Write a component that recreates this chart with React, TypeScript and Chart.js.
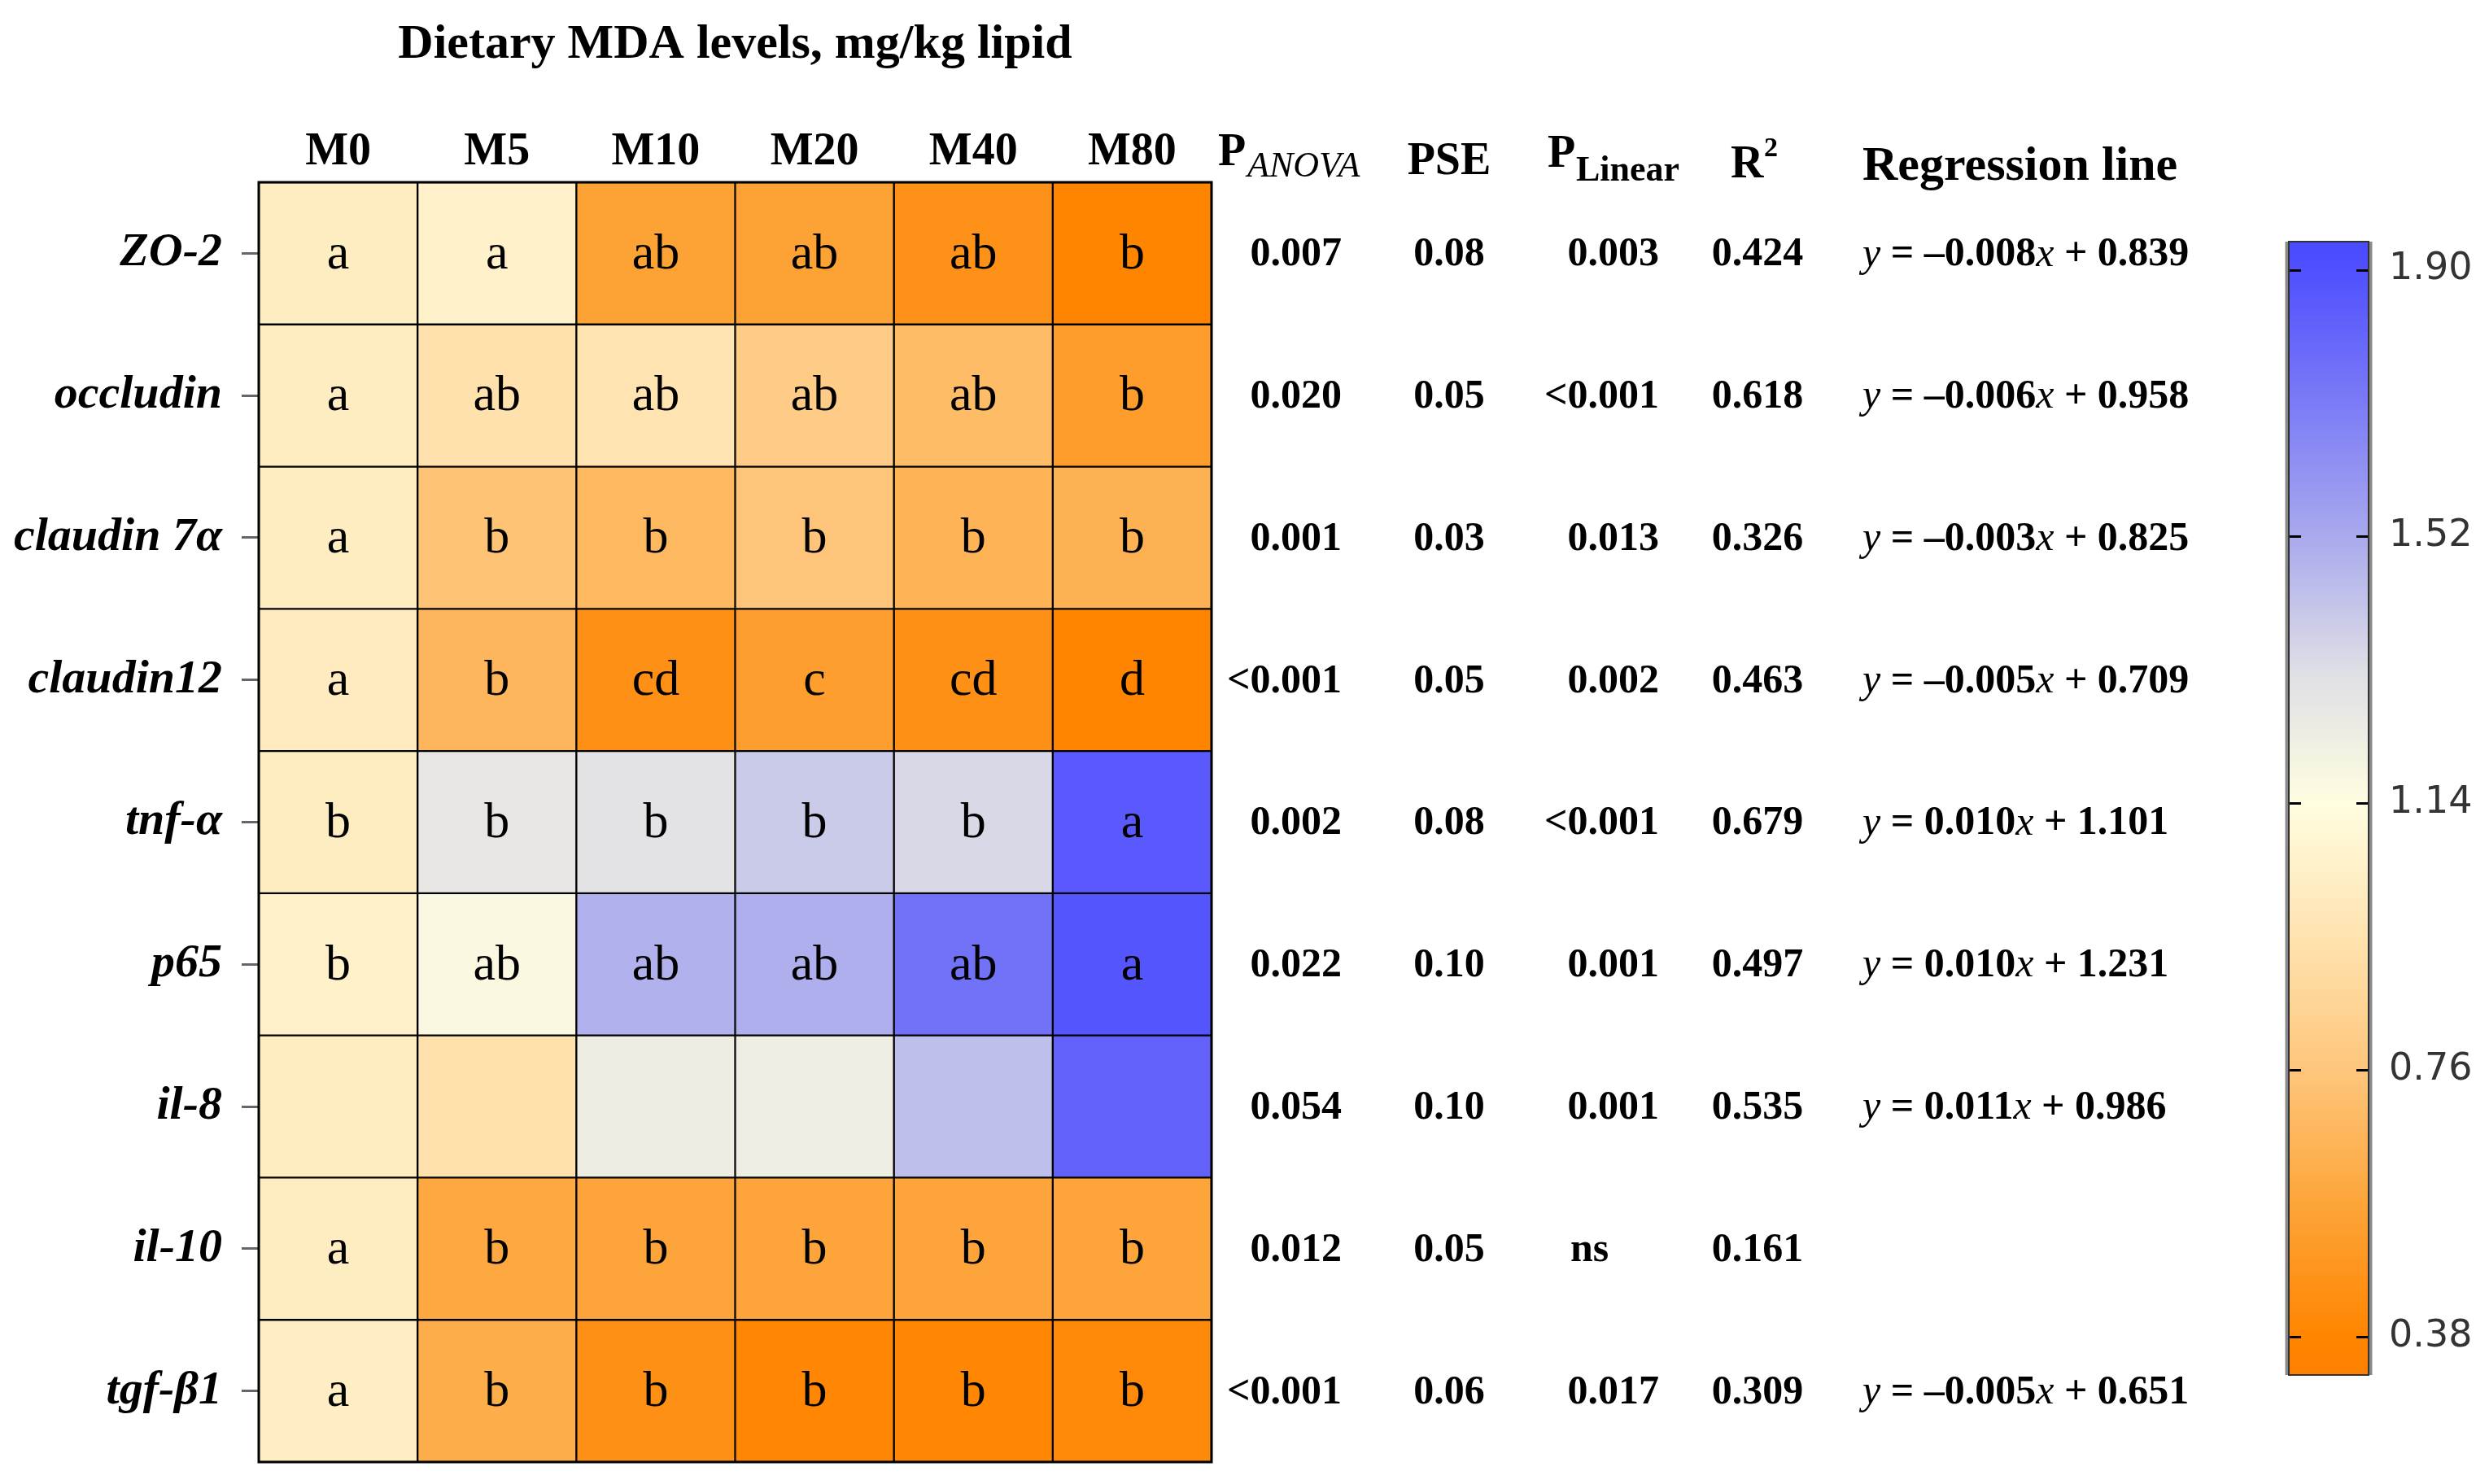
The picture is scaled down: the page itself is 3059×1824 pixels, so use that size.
import React, { useEffect, useRef } from 'react';
import { Chart, registerables } from 'chart.js';
Chart.register(...registerables);

// ---------- data ----------
const genes = ['ZO-2', 'occludin', 'claudin 7α', 'claudin12', 'tnf-α', 'p65', 'il-8', 'il-10', 'tgf-β1'];
const groups = ['M0', 'M5', 'M10', 'M20', 'M40', 'M80'];

const m0Values = [1.02, 1.02, 1.02, 1.01, 1.02, 1.05, 1.02, 1.02, 1.03];
const m5Values = [1.05, 0.94, 0.74, 0.67, 1.28, 1.17, 0.94, 0.59, 0.62];
const m10Values = [0.55, 0.95, 0.68, 0.45, 1.30, 1.49, 1.24, 0.57, 0.45];
const m20Values = [0.55, 0.80, 0.75, 0.53, 1.40, 1.50, 1.23, 0.57, 0.39];
const m40Values = [0.46, 0.70, 0.65, 0.45, 1.35, 1.75, 1.44, 0.57, 0.39];
const m80Values = [0.38, 0.52, 0.64, 0.38, 1.86, 1.88, 1.82, 0.57, 0.41];

const m0Letters = ['a', 'a', 'a', 'a', 'b', 'b', '', 'a', 'a'];
const m5Letters = ['a', 'ab', 'b', 'b', 'b', 'ab', '', 'b', 'b'];
const m10Letters = ['ab', 'ab', 'b', 'cd', 'b', 'ab', '', 'b', 'b'];
const m20Letters = ['ab', 'ab', 'b', 'c', 'b', 'ab', '', 'b', 'b'];
const m40Letters = ['ab', 'ab', 'b', 'cd', 'b', 'ab', '', 'b', 'b'];
const m80Letters = ['b', 'b', 'b', 'd', 'a', 'a', '', 'b', 'b'];

const pAnova = ['0.007', '0.020', '0.001', '<0.001', '0.002', '0.022', '0.054', '0.012', '<0.001'];
const pse = ['0.08', '0.05', '0.03', '0.05', '0.08', '0.10', '0.10', '0.05', '0.06'];
const pLinear = ['0.003', '<0.001', '0.013', '0.002', '<0.001', '0.001', '0.001', 'ns', '0.017'];
const rSquared = ['0.424', '0.618', '0.326', '0.463', '0.679', '0.497', '0.535', '0.161', '0.309'];
const regSlope = ['–0.008', '–0.006', '–0.003', '–0.005', '0.010', '0.010', '0.011', '', '–0.005'];
const regIntercept = ['0.839', '0.958', '0.825', '0.709', '1.101', '1.231', '0.986', '', '0.651'];

const cbMin = 0.325;
const cbMax = 1.94;
const cbTicks = [0.38, 0.76, 1.14, 1.52, 1.90];
const colorStopValues = [0.325, 0.38, 0.57, 0.76, 0.95, 1.14, 1.33, 1.52, 1.71, 1.90, 1.94];
const colorStopColors = ['#FF8000', '#FF8500', '#FDA53A', '#FEC67C', '#FFE3B0', '#FFFDE0', '#DEDEE6', '#A9A9EE', '#7B7BF6', '#5050FF', '#4A4AFF'];

const valueCols = [m0Values, m5Values, m10Values, m20Values, m40Values, m80Values];
const letterCols = [m0Letters, m5Letters, m10Letters, m20Letters, m40Letters, m80Letters];

// ---------- helpers ----------
const SERIF = '"Liberation Serif", "Times New Roman", serif';

function hexToRgb(h: string) {
  const n = parseInt(h.slice(1), 16);
  return [(n >> 16) & 255, (n >> 8) & 255, n & 255];
}
function colorFor(v: number) {
  if (v <= colorStopValues[0]) return colorStopColors[0];
  for (let i = 1; i < colorStopValues.length; i++) {
    if (v <= colorStopValues[i]) {
      const t = (v - colorStopValues[i - 1]) / (colorStopValues[i] - colorStopValues[i - 1]);
      const a = hexToRgb(colorStopColors[i - 1]);
      const b = hexToRgb(colorStopColors[i]);
      const c = a.map((x, k) => Math.round(x + (b[k] - x) * t));
      return `rgb(${c[0]},${c[1]},${c[2]})`;
    }
  }
  return colorStopColors[colorStopColors.length - 1];
}

function drawParts(ctx: CanvasRenderingContext2D, parts: [string, string][], x: number, y: number) {
  let cx = x;
  for (const [text, font] of parts) {
    ctx.font = font;
    ctx.fillText(text, cx, y);
    cx += ctx.measureText(text).width;
  }
}

const annotPlugin = {
  id: 'annot',
  afterDatasetsDraw(chart: any) {
    const ctx = chart.ctx as CanvasRenderingContext2D;
    const a = chart.chartArea;
    ctx.save();
    // outer border
    ctx.strokeStyle = '#000';
    ctx.lineWidth = 3;
    ctx.strokeRect(a.left, a.top, a.width, a.height);
    // cell letters
    ctx.fillStyle = '#000';
    ctx.textAlign = 'center';
    ctx.textBaseline = 'middle';
    ctx.font = `62px ${SERIF}`;
    chart.data.datasets.forEach((_: any, i: number) => {
      const meta = chart.getDatasetMeta(i);
      meta.data.forEach((el: any, j: number) => {
        const p = el.getCenterPoint();
        ctx.fillText(letterCols[i][j], p.x, p.y + 2);
      });
    });
    ctx.restore();
  },
  afterDraw(chart: any) {
    const ctx = chart.ctx as CanvasRenderingContext2D;
    const a = chart.chartArea;
    const ys = chart.scales.y;
    ctx.save();
    ctx.fillStyle = '#000';
    // title
    ctx.textAlign = 'center';
    ctx.textBaseline = 'middle';
    ctx.font = `bold 60px ${SERIF}`;
    ctx.fillText('Dietary MDA levels, mg/kg lipid', (a.left + a.right) / 2, 55);

    // headers
    ctx.textAlign = 'left';
    ctx.textBaseline = 'alphabetic';
    drawParts(ctx, [['P', `bold 56px ${SERIF}`]], 1497, 203);
    drawParts(ctx, [['ANOVA', `italic 44px ${SERIF}`]], 1533, 217);
    ctx.textAlign = 'center';
    ctx.font = `bold 56px ${SERIF}`;
    ctx.fillText('PSE', 1781, 214);
    ctx.textAlign = 'left';
    drawParts(ctx, [['P', `bold 56px ${SERIF}`]], 1902, 205);
    drawParts(ctx, [['Linear', `bold 44px ${SERIF}`]], 1937, 222);
    drawParts(ctx, [['R', `bold 56px ${SERIF}`]], 2127, 218);
    drawParts(ctx, [['2', `bold 34px ${SERIF}`]], 2168, 192);
    drawParts(ctx, [['Regression line', `bold 60px ${SERIF}`]], 2289, 221);

    // values
    ctx.textBaseline = 'middle';
    const B = `bold 50px ${SERIF}`;
    const I = `italic 50px ${SERIF}`;
    genes.forEach((_, j) => {
      const y = ys.getPixelForValue(j) + 2;
      ctx.font = B;
      ctx.textAlign = 'right';
      ctx.fillText(pAnova[j], 1649, y);
      ctx.textAlign = 'center';
      ctx.fillText(pse[j], 1781, y);
      if (/^[<0-9]/.test(pLinear[j])) {
        ctx.textAlign = 'right';
        ctx.fillText(pLinear[j], 2039, y);
      } else {
        ctx.textAlign = 'left';
        ctx.fillText(pLinear[j], 1930, y);
      }
      ctx.textAlign = 'center';
      ctx.fillText(rSquared[j], 2160, y);
      if (regSlope[j]) {
        ctx.textAlign = 'left';
        drawParts(ctx, [['y', I], [' = ', B], [regSlope[j], B], ['x', I], [' + ', B], [regIntercept[j], B]], 2289, y);
      }
    });
    ctx.restore();
  },
};

const cbPlugin = {
  id: 'cbDecor',
  afterDatasetsDraw(chart: any) {
    const ctx = chart.ctx as CanvasRenderingContext2D;
    const a = chart.chartArea;
    const ys = chart.scales.y;
    ctx.save();
    ctx.strokeStyle = '#000';
    ctx.lineWidth = 3;
    cbTicks.forEach((v) => {
      const y = Math.round(ys.getPixelForValue(v)) + 0.5;
      ctx.beginPath();
      ctx.moveTo(a.left, y);
      ctx.lineTo(a.left + 17, y);
      ctx.moveTo(a.right - 17, y);
      ctx.lineTo(a.right, y);
      ctx.stroke();
    });
    ctx.strokeStyle = '#8a8a8a';
    ctx.lineWidth = 5;
    ctx.beginPath();
    ctx.moveTo(a.left, a.top);
    ctx.lineTo(a.left, a.bottom);
    ctx.moveTo(a.right, a.top);
    ctx.lineTo(a.right, a.bottom);
    ctx.stroke();
    ctx.strokeStyle = '#333';
    ctx.lineWidth = 2;
    ctx.strokeRect(a.left + 2, a.top, a.width - 4, a.height);
    ctx.restore();
  },
};

export default function App() {
  const mainRef = useRef<HTMLCanvasElement>(null);
  const cbRef = useRef<HTMLCanvasElement>(null);

  useEffect(() => {
    document.body.style.margin = '0';
    const W = 3059;
    const main = new Chart(mainRef.current!, {
      type: 'bar',
      data: {
        labels: genes,
        datasets: groups.map((g, i) => ({
          label: g,
          data: genes.map(() => 1),
          backgroundColor: valueCols[i].map(colorFor),
          borderColor: '#000',
          borderWidth: 1.5,
          borderSkipped: false,
          barPercentage: 1,
          categoryPercentage: 1,
          xAxisID: 'x',
          yAxisID: 'y',
        })),
      },
      options: {
        indexAxis: 'y',
        responsive: false,
        animation: false,
        devicePixelRatio: 1,
        layout: { padding: { left: 0, top: 0, right: W - 1489, bottom: 1824 - 1797 } },
        plugins: { legend: { display: false }, tooltip: { enabled: false }, title: { display: false } },
        scales: {
          x: { type: 'linear', stacked: true, min: 0, max: 6, display: false },
          xTop: {
            type: 'category',
            labels: groups,
            position: 'top',
            offset: true,
            grid: { display: false, drawTicks: false },
            border: { display: false },
            ticks: { font: { family: SERIF, size: 56, weight: 'bold' }, color: '#000', padding: 3 },
            afterFit: (s: any) => { s.height = 224; s.paddingLeft = 0; s.paddingRight = 0; },
          },
          y: {
            type: 'category',
            stacked: true,
            position: 'left',
            offset: true,
            grid: { display: true, drawOnChartArea: false, offset: false, tickLength: 21, tickWidth: 3, tickColor: '#666' },
            border: { display: false },
            ticks: { font: { family: SERIF, size: 58, weight: 'bold', style: 'italic' }, color: '#000', padding: 24 },
            afterFit: (s: any) => { s.width = 318; s.paddingTop = 0; s.paddingBottom = 0; },
          },
        },
      } as any,
      plugins: [annotPlugin],
    });

    const cbW = 359;
    const cb = new Chart(cbRef.current!, {
      type: 'bar',
      data: {
        labels: [''],
        datasets: [{
          data: [[cbMin, cbMax]] as any,
          backgroundColor: (c: any) => {
            const chart = c.chart;
            if (!chart.chartArea) return '#fff';
            const ys = chart.scales.y;
            const g = chart.ctx.createLinearGradient(0, ys.getPixelForValue(cbMin), 0, ys.getPixelForValue(cbMax));
            colorStopValues.forEach((v, k) => {
              g.addColorStop(Math.min(1, Math.max(0, (v - cbMin) / (cbMax - cbMin))), colorStopColors[k]);
            });
            return g;
          },
          borderWidth: 0,
          barPercentage: 1,
          categoryPercentage: 1,
        }],
      },
      options: {
        responsive: false,
        animation: false,
        devicePixelRatio: 1,
        layout: { padding: { left: 111, top: 47, right: 0, bottom: 60 } },
        plugins: { legend: { display: false }, tooltip: { enabled: false } },
        scales: {
          x: { display: false },
          y: {
            type: 'linear',
            position: 'right',
            min: cbMin,
            max: cbMax,
            grid: { display: false, drawTicks: false },
            border: { display: false },
            afterBuildTicks: (s: any) => { s.ticks = cbTicks.map((v) => ({ value: v })); },
            ticks: {
              font: { family: '"DejaVu Sans", sans-serif', size: 46 },
              color: '#333',
              padding: 23,
              callback: (v: any) => Number(v).toFixed(2),
            },
            afterFit: (s: any) => { s.width = cbW - 213; s.paddingTop = 0; s.paddingBottom = 0; },
          },
        },
      } as any,
      plugins: [cbPlugin],
    });

    return () => { main.destroy(); cb.destroy(); };
  }, []);

  return (
    <div style={{ position: 'relative', width: 3059, height: 1824, overflow: 'hidden', background: '#fff' }}>
      <canvas ref={mainRef} width={3059} height={1824} style={{ position: 'absolute', left: 0, top: 0, width: 3059, height: 1824 }} />
      <canvas ref={cbRef} width={359} height={1500} style={{ position: 'absolute', left: 2700, top: 250, width: 359, height: 1500 }} />
    </div>
  );
}
